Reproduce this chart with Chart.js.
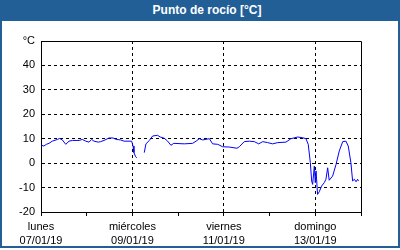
<!DOCTYPE html>
<html>
<head>
<meta charset="utf-8">
<script src="https://cdn.jsdelivr.net/npm/chart.js@4/dist/chart.umd.min.js"></script>
<style>
  html, body { margin: 0; padding: 0; background: #fff; }
  #box { width: 396px; height: 246px; border: 2px solid #235f97; border-top: 0; position: relative; }
  #head { height: 21px; background: #235f97; color: #fff; font: bold 12px "Liberation Sans", Arial, sans-serif;
          text-align: center; line-height: 20px; margin: 0 -2px; padding-left: 14px; }
  canvas { display: block; }
</style>
</head>
<body>
<div id="box">
  <div id="head">Punto de rocío [°C]</div>
  <canvas id="dewChart" width="396" height="225"></canvas>
</div>
<script>
//hours since 07/01/19 00:00 and dew point readings (null = no data)
var hours = [0, 1.5, 2.8, 4.2, 5.9, 8.6, 9.8, 11.2, 13.0, 14.7, 16.5, 20.0, 21.7, 23.5, 25.2, 26.6, 27.8, 30.1, 31.3, 33.1,
    35.7, 37.8, 39.5, 41.8, 43.6, 46.2, 47.6, 48.3, 48.8, 49.7, 50.3, 52, 54.2, 55.1, 56.9, 58.6, 61.2, 62.6, 64.7, 66.5,
    68.2, 69.7, 75.2, 79.6, 81.4, 83.1, 84.9, 88.4, 90.1, 92.8, 95.4, 98.8, 102.9, 104.1, 106.7, 109.3, 112.0, 114.3, 116.4, 119.0,
    121.6, 124.3, 128.6, 131.2, 134.8, 137.4, 139.1, 140.3, 141.4, 142.1, 142.6, 143.5, 144.0, 144.4, 145.2, 146.1, 147.3, 148.7, 149.6, 150.5,
    151.3, 153.1, 154.9, 156.6, 158.4, 160.1, 161.3, 162.7, 163.6, 164.5, 165.4, 166.2, 166.7];
var dewPoint = [7.4, 7.0, 7.7, 8.1, 9.0, 9.7, 10.1, 9.5, 7.7, 9.0, 9.3, 9.3, 9.7, 9.0, 8.6, 9.7, 9.0, 8.6, 8.8, 9.3,
    10.3, 10.3, 9.7, 9.5, 9.0, 9.0, 9.0, 7.0, 4.3, 2.6, 2.2, null, 4.3, 7.9, 9.3, 11.1, 11.4, 10.7, 10.2, 9.0,
    7.3, 8.1, 7.9, 8.1, 9.0, 10.0, 9.5, 10.0, 7.9, 7.7, 6.7, 6.6, 6.1, 6.7, 8.8, 9.0, 8.8, 7.9, 8.8, 8.4,
    7.9, 8.4, 8.6, 10.0, 10.7, 10.4, 10.0, 7.7, 0.2, -7.3, -8.7, -1.2, -8.0, -3.2, -12.8, -11.7, -9.4, -8.0, -6.6, -1.9,
    -7.0, -5.3, -0.5, 5.0, 8.8, 9.0, 7.0, 0.2, -7.3, -6.6, -7.6, -6.6, -7.3];

//x-axis labels every two days
var dayNames = ["lunes", "miércoles", "viernes", "domingo"];
var dayDates = ["07/01/19", "09/01/19", "11/01/19", "13/01/19"];
var yTicks = [-20, -10, 0, 10, 20, 30, 40];
var yUnit = "°C";

var points = [];
for (var i = 0; i < hours.length; i++) {
    points.push({x: hours[i], y: dewPoint[i]});
}

//top and right side of the plot box
var frame = {
    id: 'frame',
    afterDraw: function (chart) {
        var a = chart.chartArea, c = chart.ctx;
        c.save();
        c.strokeStyle = '#000';
        c.lineWidth = 1;
        c.beginPath();
        c.moveTo(Math.round(a.left) + 0.5, Math.round(a.top) + 0.5);
        c.lineTo(Math.round(a.right) + 0.5, Math.round(a.top) + 0.5);
        c.lineTo(Math.round(a.right) + 0.5, Math.round(a.bottom) + 0.5);
        c.stroke();
        c.restore();
    }
};

Chart.defaults.font.family = '"Liberation Sans", Arial, sans-serif';
Chart.defaults.font.size = 11;
Chart.defaults.color = '#000';

var ctx = document.getElementById("dewChart");
var dewChart = new Chart(ctx, {
    type: 'line',
    data: {
        datasets: [{
            data: points,
            borderColor: '#0000ff',
            borderWidth: 1,
            pointRadius: 0,
            tension: 0,
            spanGaps: false
        }]
    },
    options: {
        responsive: false,
        animation: false,
        layout: {padding: {top: 20, right: 37, left: 0, bottom: 0}},
        plugins: {legend: {display: false}, tooltip: {enabled: false}},
        scales: {
            x: {
                type: 'linear',
                min: 0,
                max: 168,
                afterFit: function (scale) { scale.height = 34; },
                ticks: {
                    stepSize: 24,
                    autoSkip: false,
                    maxRotation: 0,
                    padding: 3,
                    font: {lineHeight: 1.36},
                    callback: function (v) {
                        var k = v / 48;
                        if (Number.isInteger(k) && k < dayNames.length) return [dayNames[k], dayDates[k]];
                        return '';
                    }
                },
                grid: {
                    color: function (c) {
                        var v = c.tick ? c.tick.value : 0;
                        return (v % 48 === 0 && v > 0 && v < 168) ? '#000' : 'rgba(0,0,0,0)';
                    },
                    tickColor: '#000',
                    tickLength: 4,
                    tickBorderDash: []
                },
                border: {color: '#000', width: 1, dash: [3, 3]}
            },
            y: {
                min: -20,
                max: 50,
                afterFit: function (scale) { scale.width = 39; },
                afterBuildTicks: function (scale) {
                    scale.ticks = yTicks.concat([50]).map(function (v) { return {value: v}; });
                },
                ticks: {
                    padding: 6,
                    callback: function (v) { return v === 50 ? yUnit : v; }
                },
                grid: {
                    drawTicks: false,
                    color: function (c) {
                        var v = c.tick ? c.tick.value : 0;
                        return (v > -20 && v < 50) ? '#000' : 'rgba(0,0,0,0)';
                    }
                },
                border: {color: '#000', width: 1, dash: [3, 3]}
            }
        }
    },
    plugins: [frame]
});
</script>
</body>
</html>
